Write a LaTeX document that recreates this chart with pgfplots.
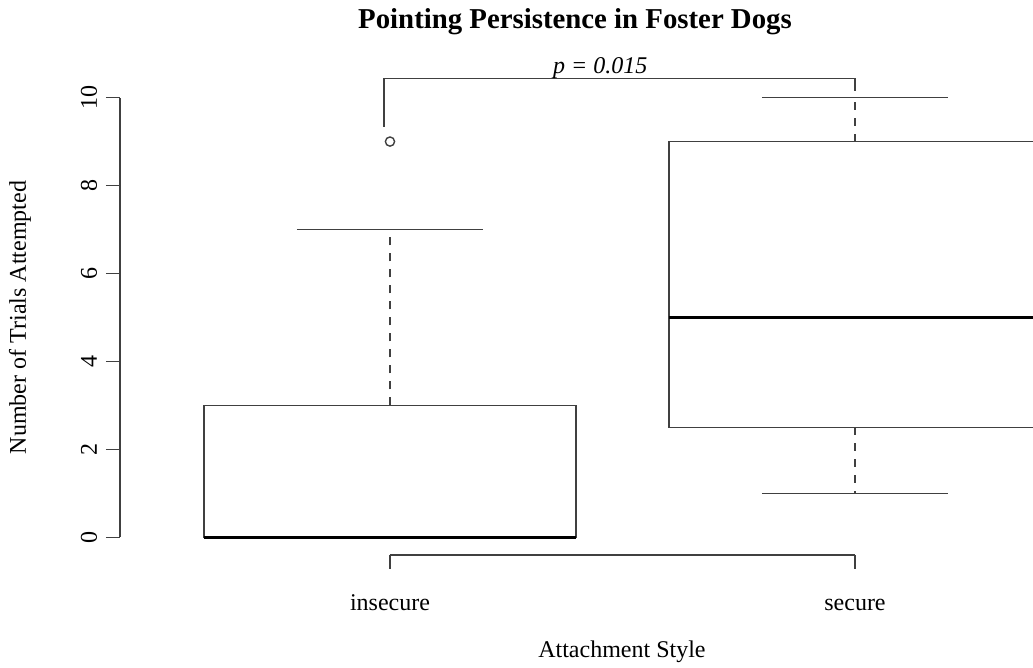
\documentclass[border=0pt]{standalone}
\usepackage{pgfplots}
\pgfplotsset{compat=1.18}
\usepgfplotslibrary{statistics}
\usepackage{fontspec}
\setmainfont{Liberation Serif}
\definecolor{linegray}{gray}{0.25}
\pgfplotsset{
  /pgfplots/boxplot/draw/lower whisker/.code={%
    \draw[linegray, line width=0.7pt, dash pattern=on 4pt off 4pt]
      (boxplot box cs:\pgfplotsboxplotvalue{lower quartile},0.5) --
      (boxplot box cs:\pgfplotsboxplotvalue{lower whisker},0.5);
    \draw[linegray, line width=0.7pt]
      (boxplot whisker cs:\pgfplotsboxplotvalue{lower whisker},0) --
      (boxplot whisker cs:\pgfplotsboxplotvalue{lower whisker},1);
  },
  /pgfplots/boxplot/draw/upper whisker/.code={%
    \draw[linegray, line width=0.7pt, dash pattern=on 4pt off 4pt]
      (boxplot box cs:\pgfplotsboxplotvalue{upper quartile},0.5) --
      (boxplot box cs:\pgfplotsboxplotvalue{upper whisker},0.5);
    \draw[linegray, line width=0.7pt]
      (boxplot whisker cs:\pgfplotsboxplotvalue{upper whisker},0) --
      (boxplot whisker cs:\pgfplotsboxplotvalue{upper whisker},1);
  },
}
\begin{document}
\begin{tikzpicture}
\path[use as bounding box] (-60pt,-56.5pt) rectangle (456.5pt,277.5pt);
\clip (-60pt,-56.5pt) rectangle (456.5pt,277.5pt);
\begin{axis}[
  at={(0,0)}, anchor=south west,
  scale only axis, width=456.5pt, height=237.5pt,
  xmin=0.4194, xmax=2.3828, ymin=-0.4, ymax=10.4,
  axis x line*=bottom, axis y line*=left,
  axis line style={draw=none},
  tick align=outside, major tick length=7pt,
  every tick/.style={linegray, line width=0.7pt},
  xtick={1,2}, xticklabels={insecure,secure},
  ytick={0,2,4,6,8,10},
  /pgf/number format/assume math mode=true,
  ticklabel style={font=\fontsize{12}{14}\selectfont},
  yticklabel style={rotate=90, anchor=center, yshift=8.5pt},
  xticklabel style={anchor=center, text height=9pt, text depth=2.5pt, yshift=-17.5pt},
  clip=false,
  boxplot/draw direction=y,
  boxplot/box extend=0.8,
  boxplot/whisker extend=0.4,
  boxplot/every box/.style={linegray, line width=0.7pt},
  boxplot/every median/.style={black, line width=1.6pt},
]
% axis lines (R style: only over the tick range)
\draw[linegray, line width=0.7pt] (axis cs:0.4194,0) -- (axis cs:0.4194,10);
\draw[linegray, line width=0.7pt] (axis cs:1,-0.4) -- (axis cs:2,-0.4);

\addplot[linegray, boxplot prepared={
  draw position=1, lower whisker=0, lower quartile=0,
  median=0, upper quartile=3, upper whisker=7}] coordinates {};
\addplot[linegray, boxplot prepared={
  draw position=2, lower whisker=1, lower quartile=2.5,
  median=5, upper quartile=9, upper whisker=10}] coordinates {};
\addplot[only marks, mark=o, mark size=2.3pt, linegray, mark options={line width=0.7pt}]
  coordinates {(1,9)};

% significance bracket
\addplot[linegray, line width=0.7pt] coordinates {(0.987,9.34) (0.987,10.43) (2,10.43) (2,10.14)};
\node[anchor=base, inner sep=0pt, font=\fontsize{12}{14}\selectfont\itshape]
  at (axis cs:1.452,10.55) {p = 0.015};

\node[rotate=90, anchor=center, font=\fontsize{12}{14}\selectfont]
  at (axis description cs:-0.1095,0.5) {Number of Trials Attempted};
\node[anchor=center, font=\fontsize{12}{14}\selectfont]
  at (axis description cs:0.5498,-0.2042) {Attachment Style};
\end{axis}
\node[anchor=center, font=\fontsize{14.4}{17}\selectfont\bfseries]
  at (227.5pt,266.5pt) {Pointing Persistence in Foster Dogs};
\end{tikzpicture}
\end{document}
